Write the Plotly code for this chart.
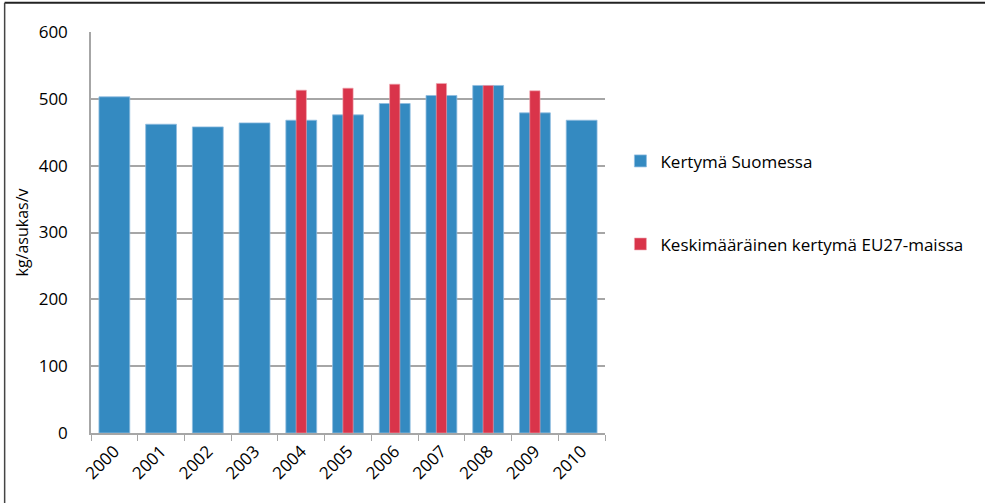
import plotly.graph_objects as go

# ── Data ──────────────────────────────────────────────────────────────────────
years = ["2000", "2001", "2002", "2003", "2004", "2005",
         "2006", "2007", "2008", "2009", "2010"]
finland = [503, 462, 458, 464, 468, 476, 493, 505, 520, 479, 468]

eu_years = ["2004", "2005", "2006", "2007", "2008", "2009"]
eu27 = [513, 516, 522, 523, 520, 512]

BLUE = "#348ac1"
RED = "#d9344a"
FONT = "'Open Sans', Lato, sans-serif"

# ── Figure ────────────────────────────────────────────────────────────────────
fig = go.Figure()
fig.add_trace(go.Bar(
    x=years, y=finland, name="Kertymä Suomessa",
    marker=dict(color=BLUE, line=dict(color="#8fbde0", width=0.8)),
    width=0.66, legendgroup="a",
))
fig.add_trace(go.Bar(
    x=eu_years, y=eu27, name="Keskimääräinen kertymä EU27-maissa",
    marker=dict(color=RED, line=dict(color="#f0a8b2", width=0.6)),
    width=0.22, legendgroup="b",
))

fig.update_layout(
    width=985, height=503,
    margin=dict(l=91, r=380, t=32, b=70),
    paper_bgcolor="white", plot_bgcolor="white",
    barmode="overlay",
    font=dict(family=FONT, size=17, color="black"),
    showlegend=True,
    legend=dict(
        x=1.03, y=0.574, xanchor="left", yanchor="middle",
        font=dict(size=17), tracegroupgap=58,
        itemwidth=30,
    ),
    xaxis=dict(
        type="category", tickangle=-45,
        showline=True, linecolor="#a6a6a6", linewidth=1.5,
        ticks="outside", ticklen=6, tickcolor="#a6a6a6",
        tickson="boundaries", showgrid=False,
        tickfont=dict(size=17),
    ),
    yaxis=dict(
        range=[0, 600], dtick=100,
        showline=True, linecolor="#a6a6a6", linewidth=1.5,
        showgrid=True, gridcolor="#a6a6a6", gridwidth=1.5,
        zeroline=False, ticklabelstandoff=18,
        tickfont=dict(size=17),
        title=dict(text="kg/asukas/v", font=dict(size=16), standoff=6),
    ),
)

# outer frame lines (top and left) around the chart area
fig.add_shape(type="line", xref="paper", yref="paper",
              x0=-0.168, x1=1.75, y0=1.073, y1=1.073,
              line=dict(color="#222", width=2))
fig.add_shape(type="line", xref="paper", yref="paper",
              x0=-0.168, x1=-0.168, y0=1.073, y1=-0.2,
              line=dict(color="#444", width=1.5))

fig.write_html("out.html", config={"displayModeBar": False},
               post_script="document.body.style.margin='0';")
